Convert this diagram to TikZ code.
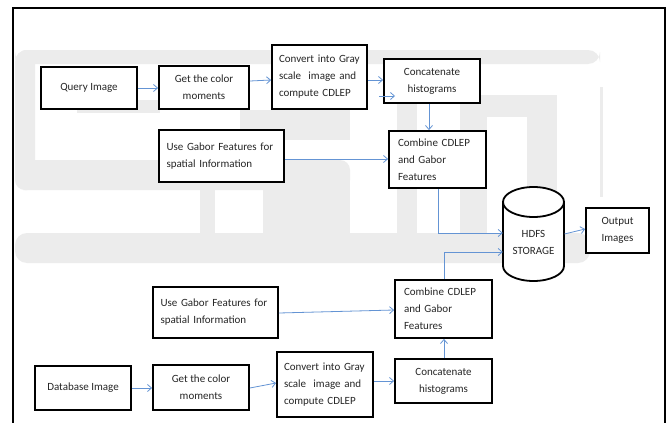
\documentclass[tikz,border=0pt]{standalone}
\usepackage{fontspec}
\setmainfont{Carlito}
\usetikzlibrary{arrows.meta}
\definecolor{arrblue}{RGB}{100,148,212}
\definecolor{wm}{RGB}{236,236,236}
\begin{document}
\begin{tikzpicture}[x=1pt,y=-1pt,
  box/.style={draw=black, fill=white, line width=1.8pt, inner sep=0pt, font=\fontsize{11}{17}\selectfont, text=black!85},
  lbl/.style={inner sep=0pt, font=\fontsize{11}{17}\selectfont, text=black!85},
  arr/.style={draw=arrblue, line width=0.8pt, -{Straight Barb[length=4pt,width=7pt]}},
  cyl/.style={draw=black, line width=1.8pt},
  wmark/.style={fill=wm, draw=none}
  ]
\useasboundingbox (0,0) rectangle (670,423);
\fill[white] (0,0) rectangle (670,423);
% watermark (faint background letters)
\fill[wmark, rounded corners=12pt] (15,50) rectangle (600,64);
\fill[wmark, rounded corners=12pt] (15,50) rectangle (35,190);
\fill[wmark] (77,100) rectangle (160,113);
\fill[wmark, rounded corners=10pt] (15,160) rectangle (350,190);
\fill[wmark] (200,160) rectangle (215,263);
\fill[wmark, rounded corners=12pt] (15,233) rectangle (590,263);
\fill[wmark] (240,110) rectangle (350,140);
\fill[wmark] (263,180) rectangle (350,233);
\fill[wmark] (397,97) rectangle (417,237);
\fill[wmark] (460,95) rectangle (557,117);
\fill[wmark] (460,95) rectangle (487,233);
\fill[wmark] (527,95) rectangle (557,197);
\fill[wm] (600,87) rectangle (603,197);
% frame
\draw[line width=2pt] (13,423) -- (13,8) -- (665,8) -- (665,423);
% top row
\node[box, minimum width=96pt, minimum height=42pt, align=center] (q) at (89,88) {Query Image};
\node[box, minimum width=90pt, minimum height=43pt, align=center] (gc1) at (204,87.5) {Get the color\\moments};
\node[box, minimum width=95pt, minimum height=64pt, text width=81pt, align=left] (cv1) at (319.5,77) {\mbox{Convert into Gray}\\\mbox{scale\ \ image and}\\\mbox{compute CDLEP}};
\node[box, minimum width=96pt, minimum height=44pt, align=center] (ch1) at (432,81) {Concatenate\\histograms};
\node[box, minimum width=125pt, minimum height=52pt, text width=110pt, align=left] (gb1) at (221.5,156) {\makebox[110pt][s]{Use Gabor Features for}\\spatial Information};
\node[box, minimum width=97pt, minimum height=57pt, text width=79pt, align=left] (cb1) at (437.5,159.5) {Combine CDLEP\\and Gabor\\Features};
% storage
\draw[cyl, fill=white] (503,202) -- (503,266) arc[start angle=180, end angle=360, x radius=30.5pt, y radius=15pt] -- (564,202);
\draw[cyl, fill=white] (533.5,202) ellipse [x radius=30.5pt, y radius=15pt];
\node[lbl, minimum width=61pt, align=center] (hdfs) at (533.5,242) {HDFS\\STORAGE};
\node[box, minimum width=63pt, minimum height=45pt, align=center] (out) at (617.5,230.5) {Output\\Images};
% bottom row
\node[box, minimum width=125pt, minimum height=51pt, text width=110pt, align=left] (gb2) at (215.5,312.5) {\makebox[110pt][s]{Use Gabor Features for}\\spatial Information};
\node[box, minimum width=97pt, minimum height=58pt, text width=79pt, align=left] (cb2) at (443.5,309) {Combine CDLEP\\and Gabor\\Features};
\node[box, minimum width=96pt, minimum height=44pt, align=center] (db) at (83,388) {Database Image};
\node[box, minimum width=96pt, minimum height=45pt, align=center] (gc2) at (201,387.5) {Get the color\\moments};
\node[box, minimum width=96pt, minimum height=65pt, text width=82pt, align=left] (cv2) at (325,384.5) {\mbox{Convert into Gray}\\\mbox{scale\ \ image and}\\\mbox{compute CDLEP}};
\node[box, minimum width=97pt, minimum height=44pt, align=center] (ch2) at (443.5,381) {Concatenate\\histograms};
% free arrow ends
\coordinate (s1) at (379,96);
\coordinate (e1) at (395,96);
% connectors top
\draw[arr] (q.east |- 0,88) -- (gc1.west |- 0,88);
\draw[arr] (gc1.east |- 0,81) -- (cv1.west |- 0,80);
\draw[arr] (cv1.east |- 0,80) -- (ch1.west |- 0,80);
\draw[arr] (s1) -- (e1);
\draw[arr] (ch1.south -| 429,0) -- (cb1.north -| 429,0);
\draw[arr] (gb1.east |- 0,159) -- (cb1.west |- 0,159);
\draw[arr] (cb1.south -| 438,0) |- (hdfs.west |- 0,233);
\draw[arr] (cb2.north -| 444,0) |- (hdfs.west |- 0,252);
\draw[arr] (564.5,234) -- (out.west |- 0,229);
% connectors bottom
\draw[arr] (gb2.east |- 0,313) -- (cb2.west |- 0,310);
\draw[arr] (db.east |- 0,388) -- (gc2.west |- 0,388);
\draw[arr] (gc2.east |- 0,388) -- (cv2.west |- 0,383);
\draw[arr] (cv2.east |- 0,381) -- (ch2.west |- 0,381);
\draw[arr] (ch2.north -| 444,0) -- (cb2.south -| 444,0);
\end{tikzpicture}
\end{document}
